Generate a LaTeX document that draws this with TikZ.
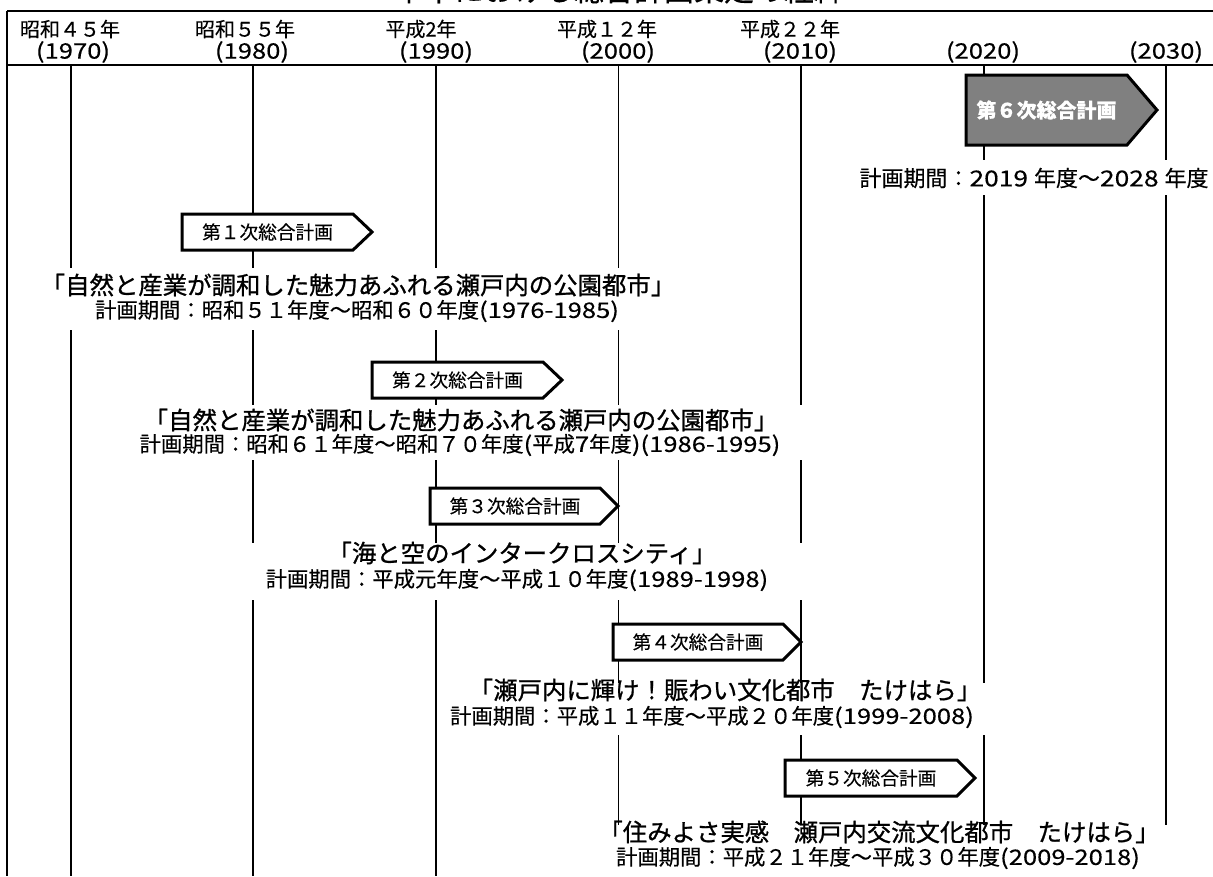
\documentclass[tikz,border=0pt]{standalone}
\usepackage{fontspec}
\setmainfont{Noto Sans CJK JP}[FakeBold=0.3]
\newfontfamily\latw{Noto Sans CJK JP}[FakeStretch=1.2,FakeBold=0.3]
\newfontfamily\jpq{Noto Sans CJK JP}[FakeBold=0.9]
\tikzset{
  frameline/.style={line width=2.2pt*0.75},
  vline/.style={line width=1.8pt*0.75},
  boxline/.style={line width=3pt*0.75, fill=white, line join=miter},
  boxtext/.style={inner sep=0pt, font=\fontsize{14}{16}\selectfont},
  hdr/.style={inner sep=0pt, font=\fontsize{15}{17}\selectfont},
  hdryear/.style={inner sep=0pt, font=\fontsize{16}{18}\selectfont\latw},
  quote/.style={inner sep=0pt, font=\fontsize{18.3}{20}\selectfont\jpq},
  period/.style={inner sep=0pt, font=\fontsize{16}{18}\selectfont},
  gap/.style={fill=white, draw=none},
}
% #1 name, #2 left x, #3 body right x, #4 centre y, #5 half height, #6 tip length, #7 style, #8 text
\newcommand\planbox[8]{%
  \draw[boxline,#7] (#2,#4-#5) -- (#3,#4-#5) -- (#3+#6,#4) -- (#3,#4+#5) -- (#2,#4+#5) -- cycle;
  \node[boxtext] (#1) at ({(#2+#3)/2},#4) {#8};}
\begin{document}
\begin{tikzpicture}[x=0.75pt,y=-0.75pt]
\useasboundingbox (0,0) rectangle (1213,876);
\clip (0,0) rectangle (1213,876);
% title (cut off at top)
\node[anchor=base, inner sep=0pt, font=\fontsize{22.5}{24}\selectfont] (title) at (619,1) {本市における総合計画策定の経緯};
% frame
\coordinate (tl) at (7,11);
\coordinate (tr) at (1213,11);
\coordinate (sl) at (7,65);
\coordinate (sr) at (1213,65);
\coordinate (bl) at (7,876);
\draw[frameline] (tl) -- (tr);
\draw[frameline] (sl) -- (sr);
\draw[frameline] (tl) -- (bl);
% vertical decade lines
\foreach \n/\x in {a/71,b/253,c/436,d/618.5,e/801,f/984,g/1166}{
  \coordinate (\n top) at (\x,65);
  \coordinate (\n bot) at (\x,876);
  \draw[vline] (\n top) -- (\n bot);
}
% header labels
\node[hdr] (h1) at (70,29) {昭和４５年};
\node[hdr] (h2) at (245,29) {昭和５５年};
\node[hdr] (h3) at (421,29) {平成2年};
\node[hdr] (h4) at (607,29) {平成１２年};
\node[hdr] (h5) at (790,29) {平成２２年};
\node[hdryear] (y1) at (73,52) {(1970)};
\node[hdryear] (y2) at (252,52) {(1980)};
\node[hdryear] (y3) at (436,52) {(1990)};
\node[hdryear] (y4) at (618,52) {(2000)};
\node[hdryear] (y5) at (800,52) {(2010)};
\node[hdryear] (y6) at (983,52) {(2020)};
\node[hdryear] (y7) at (1166,52) {(2030)};
% white gaps behind text blocks
\fill[gap] (855,160) rectangle (1210,195);
\fill[gap] (40,268) rectangle (680,330);
\fill[gap] (130,405) rectangle (815,460);
\fill[gap] (245,543) rectangle (815,600);
\fill[gap] (440,683) rectangle (995,735);
\fill[gap] (600,825) rectangle (1180,876);
% plan 6
\planbox{p6}{966}{1127}{110}{35}{30}{fill=black!50}{\textcolor{white}{\bfseries\fontsize{15}{17}\selectfont 第６次総合計画}}
\node[period, font=\fontsize{16.5}{18}\selectfont] (t6) at (1034,178) {計画期間：{\latw 2019 }年度～{\latw 2028 }年度};
% plan 1
\planbox{p1}{182}{353}{232}{18}{19}{}{第１次総合計画}
\node[quote] (q1) at (358,285) {「自然と産業が調和した魅力あふれる瀬戸内の公園都市」};
\node[period] (t1) at (357,311) {計画期間：昭和５１年度～昭和６０年度{\latw (1976-1985)}};
% plan 2
\planbox{p2}{372}{543}{380}{18}{19}{}{第２次総合計画}
\node[quote] (q2) at (461,420) {「自然と産業が調和した魅力あふれる瀬戸内の公園都市」};
\node[period] (t2) at (460,445) {計画期間：昭和６１年度～昭和７０年度{\latw (}平成{\latw 7}年度{\latw )(1986-1995)}};
% plan 3
\planbox{p3}{430}{600}{506}{18}{18}{}{第３次総合計画}
\node[quote] (q3) at (522,553) {「海と空のインタークロスシティ」};
\node[period] (t3) at (517,580) {計画期間：平成元年度～平成１０年度{\latw (1989-1998)}};
% plan 4
\planbox{p4}{613}{783}{642}{18}{18}{}{第４次総合計画}
\node[quote] (q4) at (725,690) {「瀬戸内に輝け！賑わい文化都市　たけはら」};
\node[period] (t4) at (712,717) {計画期間：平成１１年度～平成２０年度{\latw (1999-2008)}};
% plan 5
\planbox{p5}{785}{957}{778}{18}{18}{}{第５次総合計画}
\node[quote] (q5) at (879,832) {「住みよさ実感　瀬戸内交流文化都市　たけはら」};
\node[period] (t5) at (878,858) {計画期間：平成２１年度～平成３０年度{\latw (2009-2018)}};
\end{tikzpicture}
\end{document}
